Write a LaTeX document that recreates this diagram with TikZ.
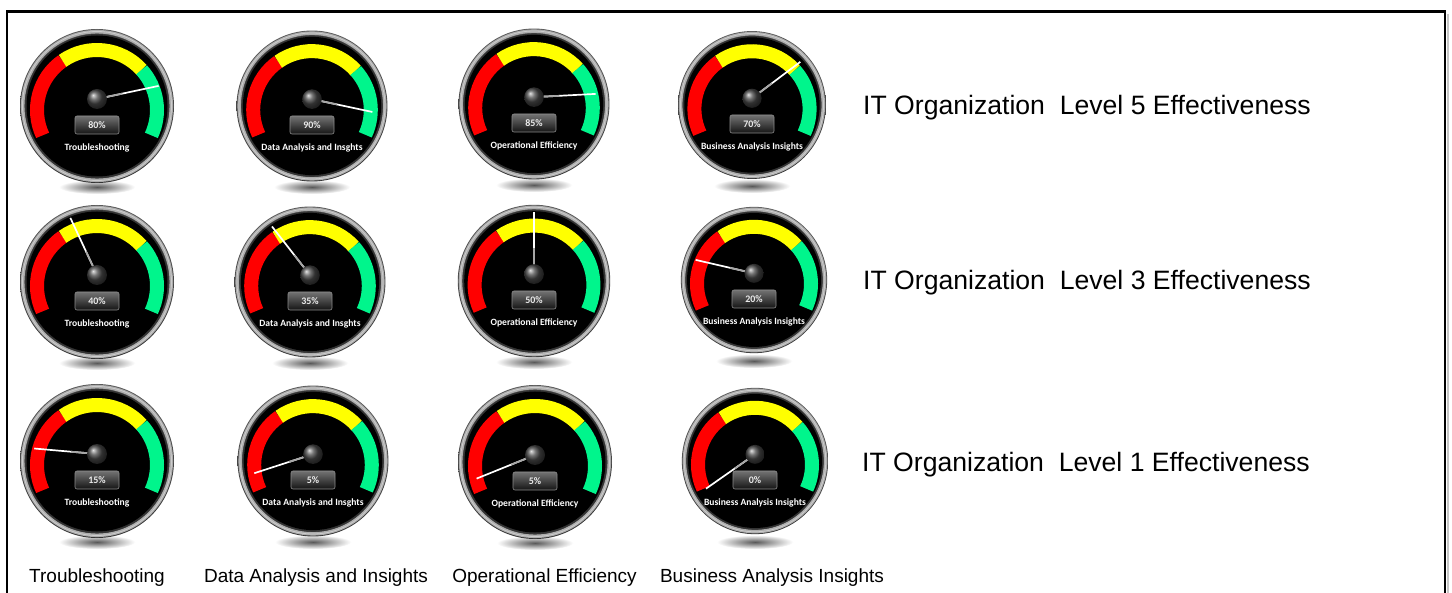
\documentclass[tikz,border=0pt]{standalone}
\usepackage{fontspec}
\setmainfont{Liberation Sans}
\newfontfamily\gfont{Carlito}
\definecolor{gred}{RGB}{255,0,0}
\definecolor{gyellow}{RGB}{255,255,0}
\definecolor{ggreen}{RGB}{0,245,140}
\tikzset{
  band/.style={line width=14pt},
  valbox/.style={draw=black!45, line width=0.6pt, rounded corners=2pt, minimum width=44pt, minimum height=18pt, inner sep=0pt, top color=black!55, bottom color=black!92, text=white!92!black, font=\gfont\bfseries\fontsize{10}{11}\selectfont},
  glabel/.style={text=white, inner sep=0pt, font=\gfont\bfseries\fontsize{9.6}{11}\selectfont},
  rowtext/.style={anchor=base west, inner sep=0pt, font=\fontsize{26.6}{30}\selectfont},
  coltext/.style={anchor=base, inner sep=0pt, font=\fontsize{19}{22}\selectfont},
}
% #1 cx, #2 cy (image), #3 scale, #4 needle angle, #5 percent, #6 label
\newcommand{\gauge}[6]{%
  \begin{scope}[shift={(#1,-#2)}]
    \shade[inner color=black!65, outer color=white] (0,-81) ellipse [x radius=38, y radius=7];
    \begin{scope}[scale=#3]
      \shade[top color=gray!70!black, bottom color=gray!40!black] (0,0) circle (77);
      \draw[gray!65, line width=3.5pt] (0,0) circle (74.3);
      \draw[gray!40, line width=0.8pt] (0,0) circle (74.5);
      \fill[black!80] (0,0) circle (72);
      \fill[black] (0,0) circle (70.5);
      \begin{scope}[shift={(0,-4)}]
        \draw[band, gred] (205:60) arc[start angle=205, end angle=125, radius=60];
        \draw[band, gyellow] (125:60) arc[start angle=125, end angle=42, radius=60];
        \draw[band, ggreen] (42:60) arc[start angle=42, end angle=-25, radius=60];
      \end{scope}
      \draw[white, line width=1.7pt] (0,7) -- ++(#4:63);
      \draw[gray!70, line width=1.7pt] (0,7) -- ++(#4:26);
      \shade[ball color=gray!55!black] (0,7) circle (10);
    \end{scope}
    \node[valbox] at (0,-19) {#5};
    \node[glabel] at (0,-42) {#6};
  \end{scope}}
\begin{document}
\begin{tikzpicture}[x=1pt,y=1pt]
\useasboundingbox (0,-593) rectangle (1452,0);
\fill[white] (0,-593) rectangle (1452,0);
\begin{scope}
\clip (0,-593) rectangle (1452,0);
\draw[gray!45, line width=1.5pt] (1447.8,-14) -- (1447.8,-600);
\draw[line width=2.5pt] (7,-600) -- (7,-11.5) -- (1445,-11.5) -- (1445,-600);
\end{scope}
% row 1
\gauge{97}{106}{1}{12}{80\%}{Troubleshooting}
\gauge{312}{106}{0.98}{-12}{90\%}{Data Analysis and Insghts}
\gauge{534}{104}{0.98}{3}{85\%}{Operational Efficiency}
\gauge{752}{105}{0.96}{37}{70\%}{Business Analysis Insights}
% row 2
\gauge{97}{282}{1}{115}{40\%}{Troubleshooting}
\gauge{310}{282}{0.98}{128}{35\%}{Data Analysis and Insghts}
\gauge{534}{281}{0.99}{90}{50\%}{Operational Efficiency}
\gauge{754}{280}{0.95}{167}{20\%}{Business Analysis Insights}
% row 3
\gauge{97}{461}{1}{175}{15\%}{Troubleshooting}
\gauge{313}{461}{0.98}{198}{5\%}{Data Analysis and Insghts}
\gauge{535}{462}{1}{202}{5\%}{Operational Efficiency}
\gauge{755}{461}{0.95}{215}{0\%}{Business Analysis Insights}
% row texts
\node[rowtext] (l5) at (863,-115) {IT Organization\ \ Level 5 Effectiveness};
\node[rowtext] (l3) at (863,-290) {IT Organization\ \ Level 3 Effectiveness};
\node[rowtext] (l1) at (862,-472) {IT Organization\ \ Level 1 Effectiveness};
% column texts
\node[coltext] (c1) at (97,-582) {Troubleshooting};
\node[coltext] (c2) at (316,-582) {Data Analysis and Insights};
\node[coltext] (c3) at (544.5,-582) {Operational Efficiency};
\node[coltext] (c4) at (772,-582) {Business Analysis Insights};
\end{tikzpicture}
\end{document}
